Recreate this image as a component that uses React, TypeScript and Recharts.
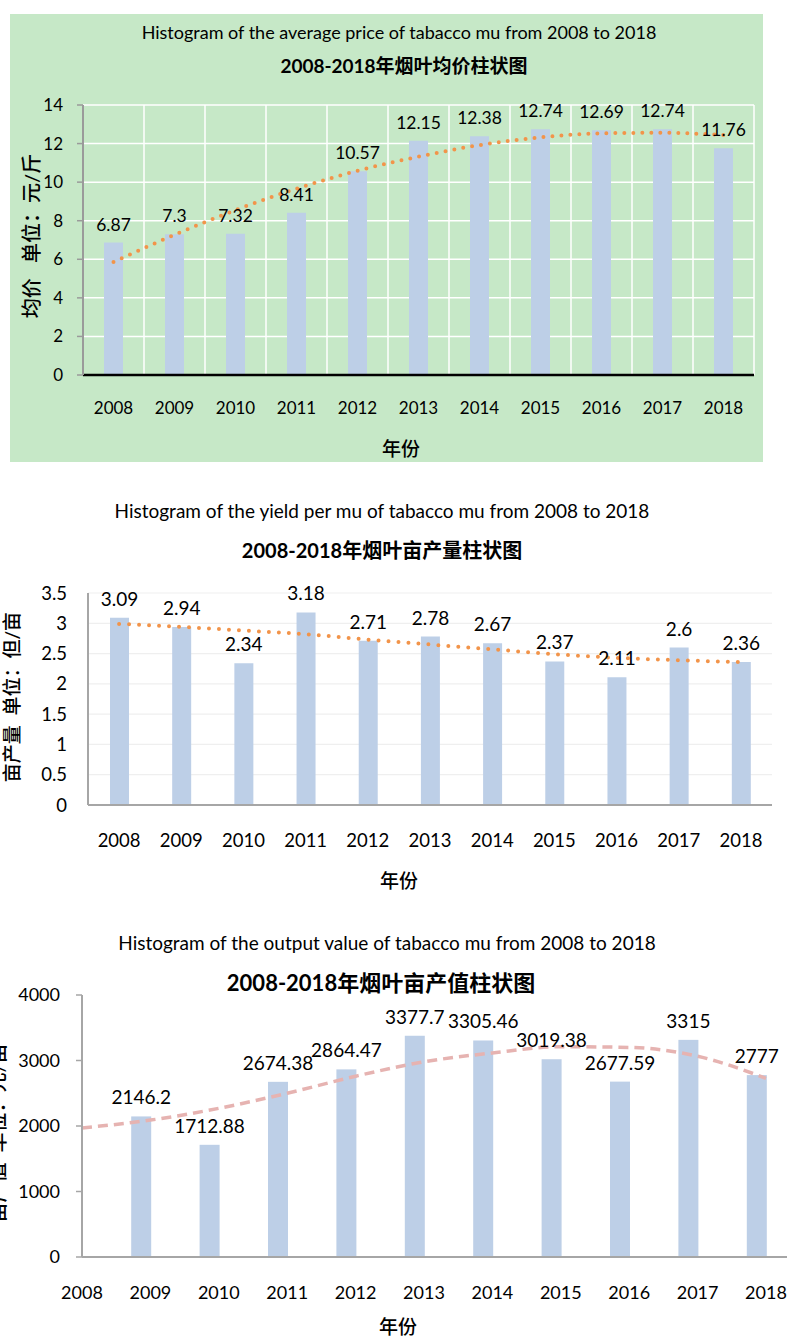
import React from 'react';
import { ComposedChart, Bar, Line, XAxis, YAxis, CartesianGrid, LabelList } from 'recharts';

// ---------- data ----------
const years = ['2008', '2009', '2010', '2011', '2012', '2013', '2014', '2015', '2016', '2017', '2018'];

const priceValues = [6.87, 7.3, 7.32, 8.41, 10.57, 12.15, 12.38, 12.74, 12.69, 12.74, 11.76];
const priceTrend = [5.86, 7.27, 8.55, 9.66, 10.59, 11.32, 11.92, 12.32, 12.53, 12.56, 12.44];
const priceTicks = [0, 2, 4, 6, 8, 10, 12, 14];

const yieldValues = [3.09, 2.94, 2.34, 3.18, 2.71, 2.78, 2.67, 2.37, 2.11, 2.6, 2.36];
const yieldTrend = [2.99, 2.94, 2.88, 2.82, 2.73, 2.65, 2.57, 2.49, 2.43, 2.39, 2.36];
const yieldTicks = [0, 0.5, 1, 1.5, 2, 2.5, 3, 3.5];

const outputYears = [2008, 2009, 2010, 2011, 2012, 2013, 2014, 2015, 2016, 2017, 2018];
const outputValues: (number | null)[] = [null, 2146.2, 1712.88, 2674.38, 2864.47, 3377.7, 3305.46, 3019.38, 2677.59, 3315, 2777];
const outputTrend = [1970, 2090, 2270, 2500, 2760, 2980, 3115, 3210, 3200, 3065, 2728];
const outputTicks = [0, 1000, 2000, 3000, 4000];

const priceData = years.map((y, i) => ({ year: y, value: priceValues[i], trend: priceTrend[i] }));
const yieldData = years.map((y, i) => ({ year: y, value: yieldValues[i], trend: yieldTrend[i] }));
const outputData = outputYears.map((y, i) => ({ year: y, value: outputValues[i], trend: outputTrend[i] }));

// ---------- styles ----------
const FONT = "Lato, 'Noto Sans CJK SC', sans-serif";
const BAR_COLOR = '#BDCFE7';
const GREEN = '#C6E8C7';
const ORANGE = '#F2944A';
const PINK = '#E6B3B1';
const OUTPUT_BAR_SHIFT = 9;

type TxtProps = { x: number; y: number; size: number; text: string; weight?: number | string; rotate?: boolean };
const Txt = ({ x, y, size, text, weight = 'normal', rotate = false }: TxtProps) => (
  <div
    style={{
      position: 'absolute',
      left: x,
      top: y,
      transform: `translate(-50%, -50%)${rotate ? ' rotate(-90deg)' : ''}`,
      fontFamily: FONT,
      fontSize: size,
      fontWeight: weight as any,
      color: '#000',
      whiteSpace: 'pre',
      lineHeight: 1,
      zIndex: 5,
    }}
  >
    {text}
  </div>
);

const ShiftedBar = (props: any) => {
  const { x, y, width, height } = props;
  if (height == null || height <= 0) return null;
  return <rect x={x - OUTPUT_BAR_SHIFT} y={y} width={width} height={height} fill={BAR_COLOR} />;
};

const ShiftedLabel = (props: any) => {
  const { x, y, width, value } = props;
  if (value == null) return null;
  return (
    <text
      x={x + width / 2 - OUTPUT_BAR_SHIFT}
      y={y - 12}
      textAnchor="middle"
      fontFamily={FONT}
      fontSize={19}
      fill="#000"
    >
      {String(value)}
    </text>
  );
};

export default function App() {
  return (
    <div style={{ position: 'absolute', left: 0, top: 0, width: 787, height: 1336, overflow: 'hidden', background: '#fff', fontFamily: FONT }}>
      {/* ---------- Chart 1 ---------- */}
      <div style={{ position: 'absolute', left: 10, top: 14, width: 753, height: 448, background: GREEN }}>
        <ComposedChart width={753} height={448} data={priceData} margin={{ top: 91, right: 9, bottom: 0, left: 0 }} barCategoryGap={0}>
          <CartesianGrid
            stroke="#FFFFFF"
            strokeWidth={1.5}
            verticalCoordinatesGenerator={({ offset }: any) =>
              Array.from({ length: years.length + 1 }, (_, i) => offset.left + (i * offset.width) / years.length)
            }
          />
          <XAxis
            dataKey="year"
            height={87}
            tickSize={0}
            tickMargin={27}
            axisLine={{ stroke: '#000', strokeWidth: 2.5 }}
            tickLine={false}
            tick={{ fill: '#000', fontSize: 17, fontFamily: FONT }}
          />
          <YAxis
            width={73}
            domain={[0, 14]}
            ticks={priceTicks}
            tickSize={6}
            tickMargin={14}
            axisLine={{ stroke: '#9A9A9A', strokeWidth: 2 }}
            tickLine={{ stroke: '#9A9A9A', strokeWidth: 1.5 }}
            tick={{ fill: '#000', fontSize: 17, fontFamily: FONT }}
          />
          <Bar dataKey="value" fill={BAR_COLOR} barSize={19} isAnimationActive={false}>
            <LabelList dataKey="value" position="top" offset={12} fill="#000" fontSize={17.5} fontFamily={FONT} />
          </Bar>
          <Line
            type="monotone"
            dataKey="trend"
            stroke={ORANGE}
            strokeWidth={4}
            strokeDasharray="0 9"
            strokeLinecap="round"
            dot={false}
            activeDot={false}
            isAnimationActive={false}
          />
        </ComposedChart>
      </div>
      <Txt x={399} y={32} size={18} text="Histogram of the average price of tabacco mu from 2008 to 2018" />
      <Txt x={404} y={65} size={19} weight="bold" text="2008-2018年烟叶均价柱状图" />
      <Txt x={31} y={236} size={20} weight={500} rotate text="均价   单位：元/斤" />
      <Txt x={401} y={448} size={19} weight={500} text="年份" />

      {/* ---------- Chart 2 ---------- */}
      <div style={{ position: 'absolute', left: 0, top: 570, width: 787, height: 330 }}>
        <ComposedChart width={787} height={330} data={yieldData} margin={{ top: 23, right: 15, bottom: 0, left: 0 }} barCategoryGap={0}>
          <CartesianGrid stroke="#EFEFEF" strokeWidth={1.2} vertical={false} />
          <XAxis
            dataKey="year"
            height={95}
            tickSize={0}
            tickMargin={29}
            axisLine={{ stroke: '#A6A6A6', strokeWidth: 2 }}
            tickLine={false}
            tick={{ fill: '#000', fontSize: 18.5, fontFamily: FONT }}
          />
          <YAxis
            width={88}
            domain={[0, 3.5]}
            ticks={yieldTicks}
            tickSize={0}
            tickMargin={21}
            axisLine={{ stroke: '#A6A6A6', strokeWidth: 2 }}
            tickLine={false}
            tick={{ fill: '#000', fontSize: 18.5, fontFamily: FONT }}
          />
          <Bar dataKey="value" fill={BAR_COLOR} barSize={19} isAnimationActive={false}>
            <LabelList dataKey="value" position="top" offset={12} fill="#000" fontSize={19} fontFamily={FONT} />
          </Bar>
          <Line
            type="monotone"
            dataKey="trend"
            stroke={ORANGE}
            strokeWidth={4}
            strokeDasharray="0 10"
            strokeLinecap="round"
            dot={false}
            activeDot={false}
            isAnimationActive={false}
          />
        </ComposedChart>
      </div>
      <Txt x={382} y={510} size={19} text="Histogram of the yield per mu of tabacco mu from 2008 to 2018" />
      <Txt x={382} y={550} size={20} weight="bold" text="2008-2018年烟叶亩产量柱状图" />
      <Txt x={11} y={697} size={19} weight={500} rotate text="亩产量  单位：但/亩" />
      <Txt x={399} y={880} size={19} weight={500} text="年份" />

      {/* ---------- Chart 3 ---------- */}
      <div style={{ position: 'absolute', left: 0, top: 980, width: 787, height: 356 }}>
        <ComposedChart width={787} height={356} data={outputData} margin={{ top: 15, right: 0, bottom: 0, left: 0 }}>
          <XAxis
            dataKey="year"
            type="number"
            domain={[2008, 2018]}
            ticks={outputYears}
            allowDecimals={false}
            padding={{ left: 0, right: 21 }}
            height={79}
            tickSize={0}
            tickMargin={29}
            axisLine={{ stroke: '#A6A6A6', strokeWidth: 2 }}
            tickLine={false}
            tick={{ fill: '#000', fontSize: 18, fontFamily: FONT }}
          />
          <YAxis
            width={82}
            domain={[0, 4000]}
            ticks={outputTicks}
            tickSize={6}
            tickMargin={16}
            axisLine={{ stroke: '#A6A6A6', strokeWidth: 2 }}
            tickLine={{ stroke: '#A6A6A6', strokeWidth: 1.5 }}
            tick={{ fill: '#000', fontSize: 18, fontFamily: FONT }}
          />
          <Bar dataKey="value" fill={BAR_COLOR} barSize={20} shape={<ShiftedBar />} isAnimationActive={false}>
            <LabelList dataKey="value" content={<ShiftedLabel />} />
          </Bar>
          <Line
            type="monotone"
            dataKey="trend"
            stroke={PINK}
            strokeWidth={3.5}
            strokeDasharray="10 6"
            dot={false}
            activeDot={false}
            isAnimationActive={false}
          />
        </ComposedChart>
      </div>
      <Txt x={387} y={942} size={19} text="Histogram of the output value of tabacco mu from 2008 to 2018" />
      <Txt x={381} y={983} size={22} weight="bold" text="2008-2018年烟叶亩产值柱状图" />
      <Txt x={-3} y={1133} size={20} weight={500} rotate text="亩产值  单位：元/亩" />
      <Txt x={398} y={1326} size={19} weight={500} text="年份" />
    </div>
  );
}
